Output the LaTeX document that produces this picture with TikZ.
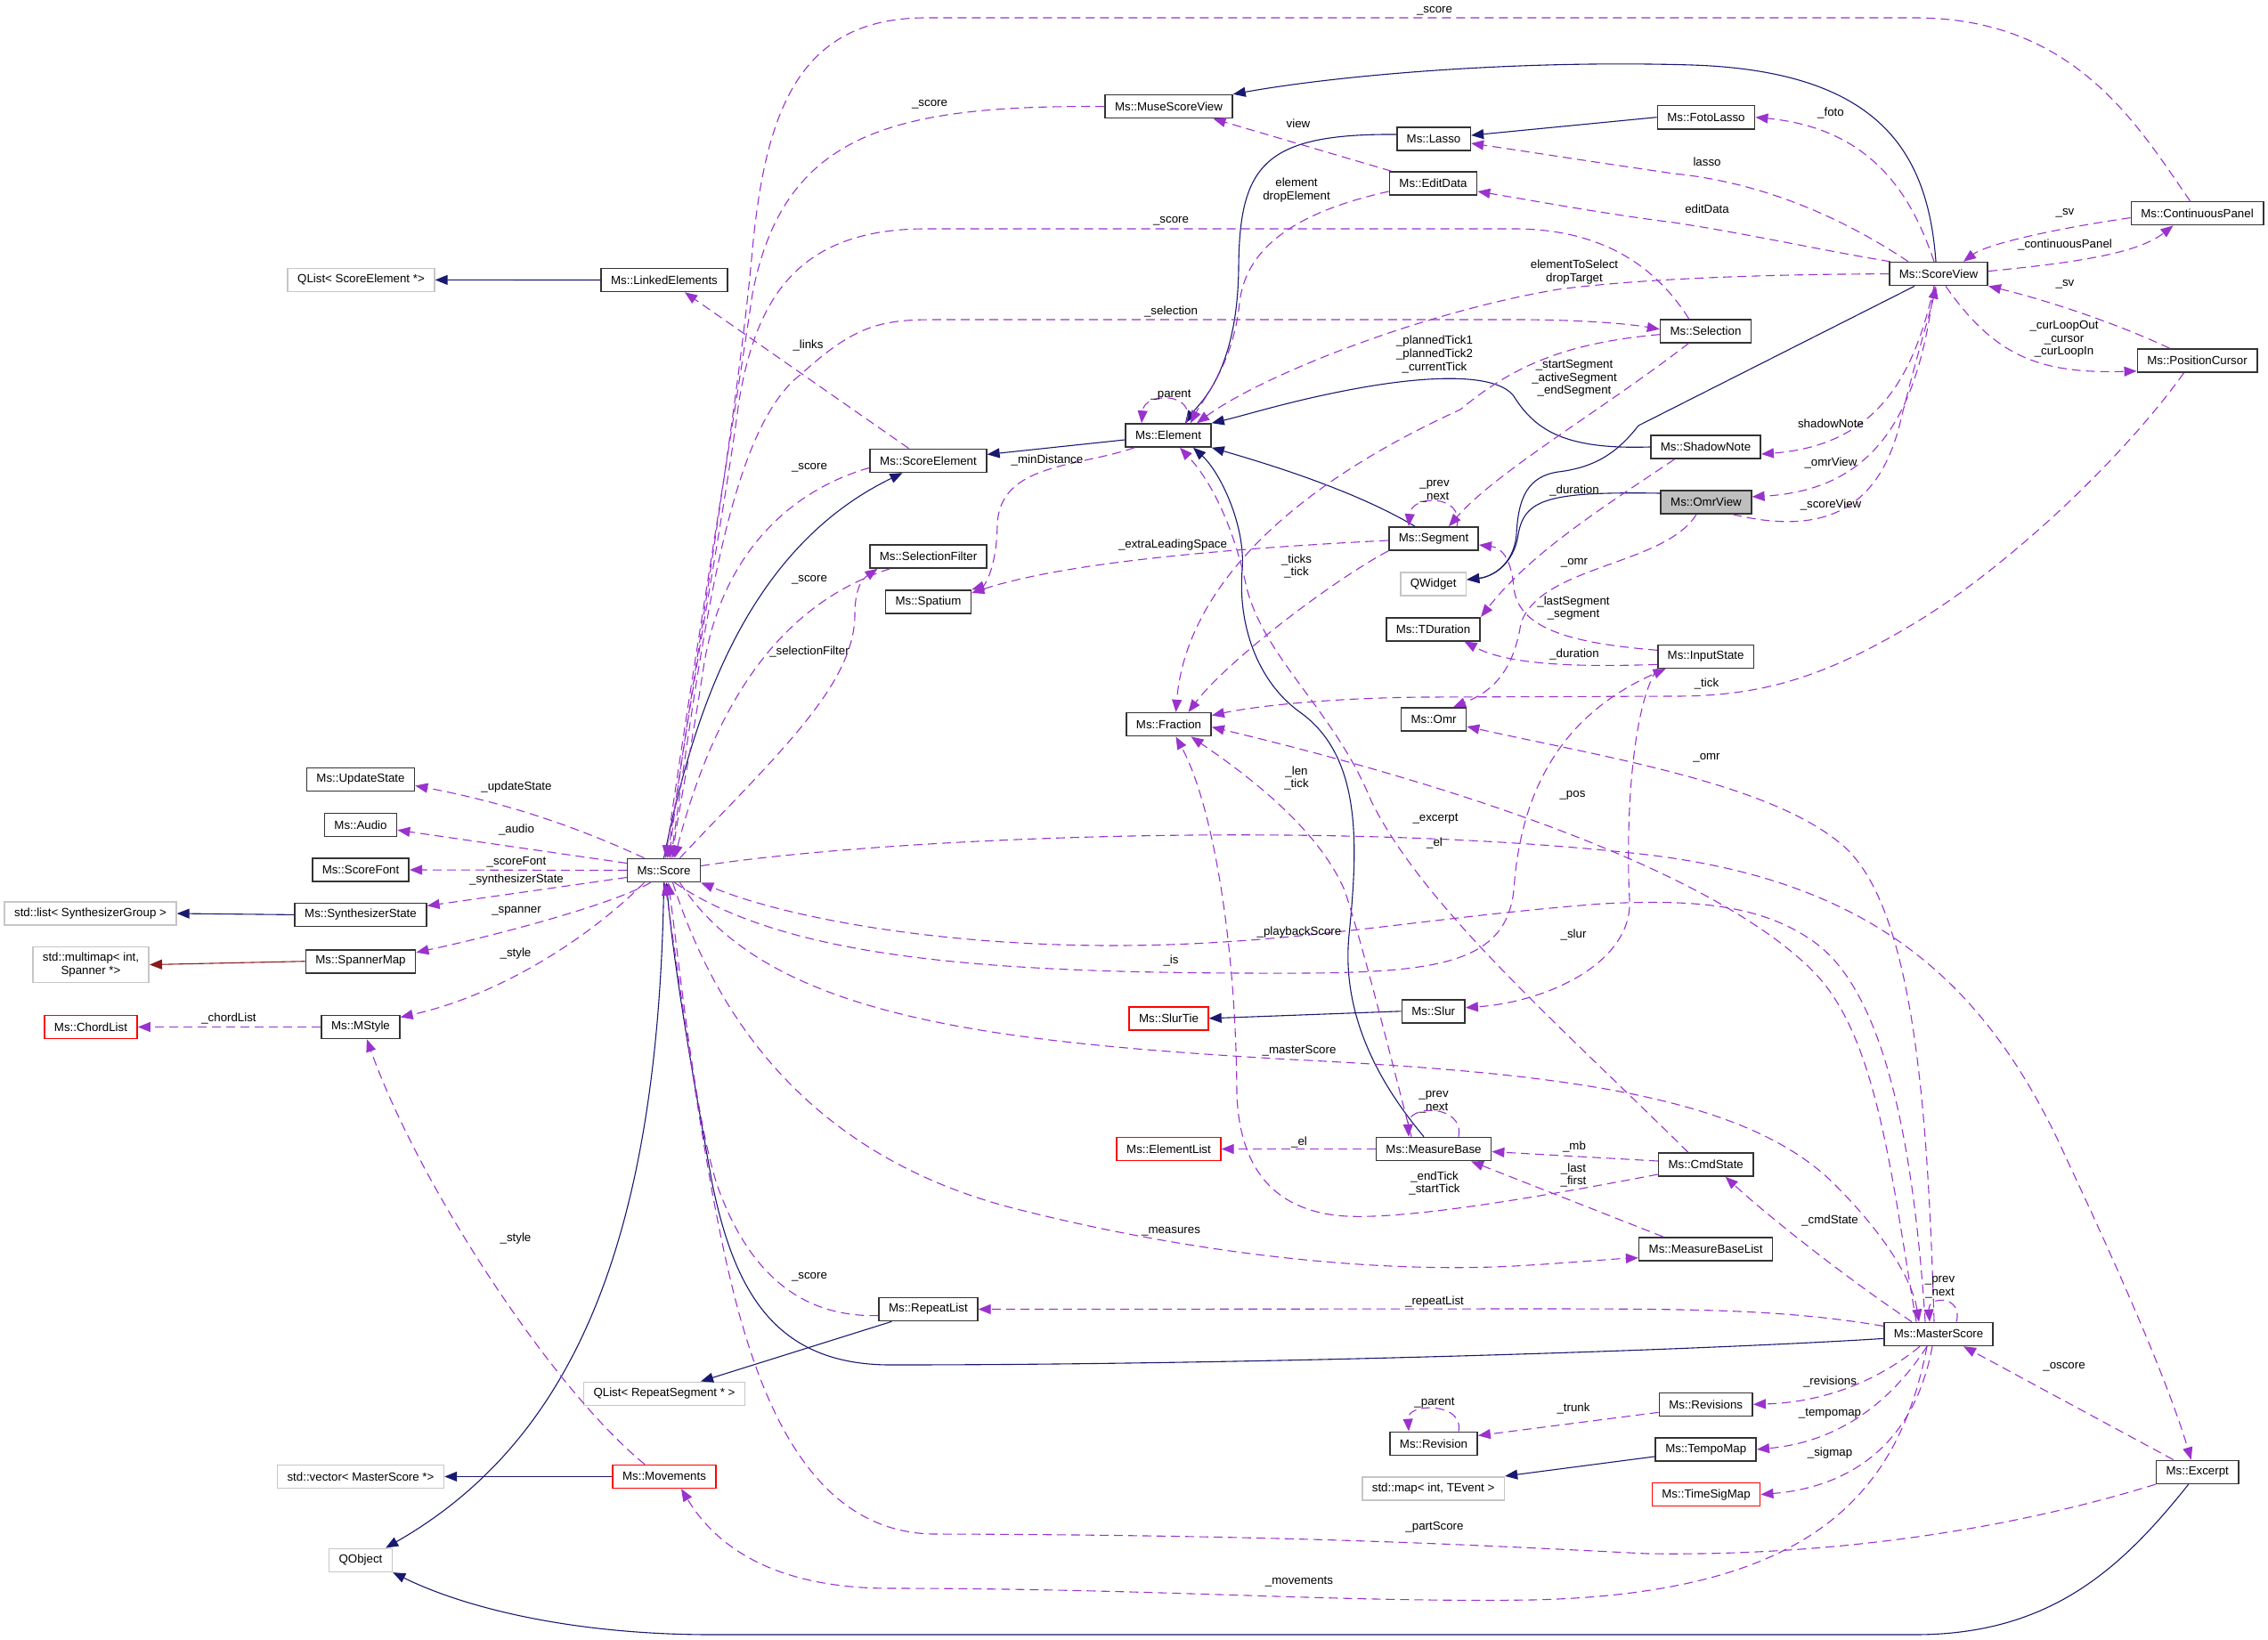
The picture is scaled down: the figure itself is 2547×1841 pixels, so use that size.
\documentclass[tikz,border=0pt]{standalone}
\usepackage{fontspec}
\setmainfont{Liberation Sans}
\usetikzlibrary{arrows.meta}
\definecolor{inhcol}{HTML}{191970}
\definecolor{depcol}{HTML}{9A32CD}
\definecolor{redcol}{HTML}{8B1A1A}

\begin{document}
\begin{tikzpicture}[x=1pt, y=-1pt, font=\fontsize{13.3}{14.6}\selectfont,
    cls/.style={draw=black!80, line width=1.6pt, minimum height=26pt, inner xsep=11pt, inner ysep=3pt},
    ext/.style={cls, draw=gray!45},
    trunc/.style={cls, draw=red},
    focus/.style={cls, fill=gray!50},
    lbl/.style={inner sep=0pt, align=center},
    inh/.style={draw=inhcol, line width=1.1pt, -{Triangle[length=14pt,width=11pt]}},
    inhred/.style={inh, draw=redcol},
    dep/.style={draw=depcol, line width=1.1pt, dash pattern=on 10pt off 6pt, -{Triangle[length=14pt,width=11pt]}}]
    \useasboundingbox (0,0) rectangle (2547,1841);

    % classes
    \node[ext] (qlistse) at (405.5,314.4) {QList< ScoreElement *>};
    \node[cls] (linked) at (746,314.5) {Ms::LinkedElements};
    \node[cls] (scoreelem) at (1042.5,517.4) {Ms::ScoreElement};
    \node[cls] (musescoreview) at (1312.5,119.6) {Ms::MuseScoreView};
    \node[cls] (lasso) at (1610,156) {Ms::Lasso};
    \node[cls] (editdata) at (1609.5,206) {Ms::EditData};
    \node[cls] (element) at (1312,489) {Ms::Element};
    \node[cls] (segment) at (1610,605) {Ms::Segment};
    \node[cls] (selection) at (1915.5,371.7) {Ms::Selection};
    \node[cls] (fotolasso) at (1916,131.7) {Ms::FotoLasso};
    \node[cls] (shadownote) at (1915.5,502) {Ms::ShadowNote};
    \node[focus] (omrview) at (1916,564) {Ms::OmrView};
    \node[cls] (scoreview) at (2177,307.6) {Ms::ScoreView};
    \node[cls] (contpanel) at (2467.5,239.6) {Ms::ContinuousPanel};
    \node[cls] (poscursor) at (2467.5,405) {Ms::PositionCursor};
    \node[cls] (updatestate) at (405,875.5) {Ms::UpdateState};
    \node[cls] (audio) at (405,926.3) {Ms::Audio};
    \node[cls] (scorefont) at (405,977) {Ms::ScoreFont};
    \node[cls] (synthstate) at (405,1027.4) {Ms::SynthesizerState};
    \node[cls] (spannermap) at (405,1079.7) {Ms::SpannerMap};
    \node[cls] (mstyle) at (405,1153.5) {Ms::MStyle};
    \node[trunc] (chordlist) at (102,1153.5) {Ms::ChordList};
    \node[ext] (stdlist) at (101.5,1026) {std::list< SynthesizerGroup >};
    \node[ext, align=center, minimum height=40pt] (multimap) at (102,1083.5) {std::multimap< int,\\Spanner *>};
    \node[cls] (score) at (745.5,977.5) {Ms::Score};
    \node[cls] (selfilter) at (1042.5,625) {Ms::SelectionFilter};
    \node[cls] (spatium) at (1042.5,676) {Ms::Spatium};
    \node[cls] (fraction) at (1312.5,813.6) {Ms::Fraction};
    \node[ext] (qwidget) at (1609.6,656) {QWidget};
    \node[cls] (tduration) at (1609.5,706.7) {Ms::TDuration};
    \node[cls] (omr) at (1610,808) {Ms::Omr};
    \node[cls] (inputstate) at (1915.6,737.3) {Ms::InputState};
    \node[trunc] (slurtie) at (1312.5,1143.8) {Ms::SlurTie};
    \node[cls] (slur) at (1609.7,1135.8) {Ms::Slur};
    \node[cls] (repeatlist) at (1042.4,1470.5) {Ms::RepeatList};
    \node[ext] (qlistrs) at (746,1565.3) {QList< RepeatSegment * >};
    \node[trunc] (movements) at (746,1658.4) {Ms::Movements};
    \node[ext] (stdvector) at (405,1658.4) {std::vector< MasterScore *>};
    \node[ext] (qobject) at (405,1752.3) {QObject};
    \node[cls] (measurebase) at (1610,1290.5) {Ms::MeasureBase};
    \node[trunc] (elementlist) at (1312.5,1290.5) {Ms::ElementList};
    \node[cls] (cmdstate) at (1915.7,1308) {Ms::CmdState};
    \node[cls] (mblist) at (1915.6,1402.8) {Ms::MeasureBaseList};
    \node[cls] (revisions) at (1915.7,1577.3) {Ms::Revisions};
    \node[cls] (tempomap) at (1915.7,1627.9) {Ms::TempoMap};
    \node[trunc] (timesigmap) at (1916,1678.6) {Ms::TimeSigMap};
    \node[cls] (revision) at (1610,1621.4) {Ms::Revision};
    \node[ext] (stdmap) at (1609.6,1671.7) {std::map< int, TEvent >};
    \node[cls] (masterscore) at (2177,1498.4) {Ms::MasterScore};
    \node[cls] (excerpt) at (2467.7,1653.3) {Ms::Excerpt};

    % inheritance
    \draw[inh] (linked.west) -- (qlistse.east);
    \draw[inh] ([yshift=-5pt]element.west) -- ([yshift=7pt]scoreelem.east);
    \draw[inh] (score.north) .. controls (775,820) and (830,620) .. ([xshift=-29pt]scoreelem.south);
    \draw[inh] (score.south) .. controls (740,1400) and (640,1620) .. ([xshift=-8pt]qobject.north east);
    \draw[inh] (synthstate.west) -- (stdlist.east);
    \draw[inhred] (spannermap.west) -- (multimap.east);
    \draw[inh] ([yshift=5pt]lasso.west) .. controls (1420,150) and (1392,185) .. (1391,300) .. controls (1390,420) and (1345,455) .. ([xshift=19pt]element.north);
    \draw[inh] (fotolasso.west) -- ([yshift=4pt]lasso.east);
    \draw[inh] ([xshift=-3pt]scoreview.north) .. controls (2165,170) and (2110,80) .. (1900,73) .. controls (1700,67) and (1500,85) .. (musescoreview.north east);
    \draw[inh] ([xshift=-27pt]scoreview.south) -- (1840,478) .. controls (1815,510) and (1790,525) .. (1750,530) .. controls (1715,535) and (1705,560) .. (1703,600) .. controls (1700,635) and (1675,648) .. ([yshift=5pt]qwidget.east);
    \draw[inh] ([yshift=10pt]omrview.west) .. controls (1740,552) and (1712,560) .. (1705,600) .. controls (1700,635) and (1675,648) .. ([yshift=5pt]qwidget.east);
    \draw[inh] ([xshift=-41pt]repeatlist.south) -- ([xshift=41pt]qlistrs.north);
    \draw[inh] ([yshift=-5pt]masterscore.west) .. controls (1900,1517) and (1400,1533) .. (1000,1533) .. controls (870,1533) and (825,1450) .. (800,1330) .. controls (780,1220) and (757,1090) .. ([xshift=3pt]score.south);
    \draw[inh] ([xshift=-10pt]excerpt.south) .. controls (2380,1765) and (2300,1836) .. (2150,1836) -- (800,1836) .. controls (640,1836) and (520,1805) .. (qobject.south east);
    \draw[inh] ([xshift=-11pt]measurebase.north) .. controls (1560,1230) and (1505,1150) .. (1515,1050) .. controls (1525,950) and (1530,850) .. (1460,800) .. controls (1411,765) and (1390,700) .. (1395,640) .. controls (1399,590) and (1370,530) .. ([xshift=28pt]element.south);
    \draw[inh] ([xshift=-21pt]segment.north) .. controls (1520,550) and (1420,520) .. (element.south east);
    \draw[inh] (shadownote.west) .. controls (1760,505) and (1725,485) .. (1700,445) .. controls (1680,418) and (1600,422) .. (1520,437) .. controls (1450,450) and (1400,466) .. (element.north east);
    \draw[inh] (slur.west) -- (slurtie.east);
    \draw[inh] ([yshift=-8pt]tempomap.west) -- (stdmap.north east);
    \draw[inh] (movements.west) -- (stdvector.east);

    % usage
    \draw[dep] ([xshift=-8pt]contpanel.north) .. controls (2400,140) and (2330,20) .. (2150,20) -- (1040,20) .. controls (900,20) and (860,120) .. (845,280) .. controls (830,450) and (780,750) .. ([xshift=4pt]score.north);
    \draw[dep] (musescoreview.west) .. controls (1000,118) and (880,150) .. (845,330) .. controls (820,500) and (770,800) .. ([xshift=2pt]score.north);
    \draw[dep] ([xshift=-19pt]selection.north) .. controls (1860,300) and (1800,257) .. (1700,257) -- (1040,257) .. controls (900,257) and (850,330) .. (830,450) .. controls (810,600) and (770,800) .. ([xshift=6pt]score.north);
    \draw[dep] ([xshift=8pt]score.north) .. controls (790,700) and (820,480) .. (900,420) .. controls (960,365) and (990,359) .. (1050,359) -- (1700,359) .. controls (1780,359) and (1830,364) .. ([yshift=2pt]selection.west);
    \draw[dep] ([yshift=-8pt]scoreelem.west) .. controls (890,550) and (810,620) .. (790,750) .. controls (775,850) and (760,920) .. ([xshift=10pt]score.north);
    \draw[dep] ([xshift=-43pt]selfilter.south) .. controls (870,680) and (800,800) .. ([xshift=12pt]score.north);
    \draw[dep] ([xshift=18pt]score.north) .. controls (870,850) and (960,770) .. (960,690) .. controls (960,655) and (972,648) .. ([xshift=-57pt]selfilter.south);
    \draw[dep] ([xshift=-22pt]scoreelem.north) -- ([xshift=23pt]linked.south);
    \draw[dep] ([xshift=-47pt]editdata.north) -- ([xshift=50pt]musescoreview.south);
    \draw[dep] ([yshift=-9pt]editdata.west) .. controls (1470,235) and (1400,270) .. (1392,340) .. controls (1385,410) and (1350,450) .. ([xshift=25pt]element.north);
    \draw[dep] ([xshift=-34pt]scoreview.north) .. controls (2070,245) and (1980,205) .. (1880,195) .. controls (1790,182) and (1700,168) .. ([yshift=-5pt]lasso.east);
    \draw[dep] ([xshift=-5pt]scoreview.north) .. controls (2150,230) and (2110,145) .. (fotolasso.east);
    \draw[dep] ([xshift=-54pt]scoreview.north) .. controls (2050,282) and (1960,262) .. (1880,250) .. controls (1800,240) and (1720,225) .. ([yshift=-9pt]editdata.east);
    \draw[dep] (scoreview.west) .. controls (2000,308) and (1850,312) .. (1750,325) .. controls (1600,350) and (1420,420) .. ([xshift=32pt]element.north);
    \draw[dep] ([yshift=-5pt]contpanel.west) .. controls (2300,258) and (2230,275) .. ([xshift=28pt]scoreview.north);
    \draw[dep] ([yshift=3pt]scoreview.east) .. controls (2330,295) and (2400,285) .. ([xshift=-27pt]contpanel.south);
    \draw[dep] ([xshift=-31pt]poscursor.north) .. controls (2370,360) and (2290,335) .. (scoreview.south east);
    \draw[dep] ([xshift=8pt]scoreview.south) .. controls (2240,400) and (2290,420) .. ([yshift=2pt]poscursor.south west);
    \draw[dep] ([xshift=-15pt]poscursor.south) .. controls (2380,520) and (2250,640) .. (2150,700) .. controls (2050,760) and (1980,782) .. (1880,782) -- (1600,783) .. controls (1480,784) and (1400,795) .. ([yshift=10pt]fraction.east);
    \draw[dep] ([xshift=-5pt]scoreview.south) .. controls (2150,420) and (2110,500) .. ([yshift=-8pt]shadownote.east);
    \draw[dep] ([xshift=-5pt]scoreview.south) .. controls (2155,460) and (2110,550) .. ([yshift=6pt]omrview.east);
    \draw[dep] ([xshift=30pt]omrview.south) .. controls (2040,600) and (2110,580) .. (2135,470) .. controls (2155,390) and (2168,350) .. ([xshift=-3pt]scoreview.south);
    \draw[dep] ([xshift=20pt]element.north) .. controls (1345,440) and (1285,440) .. ([xshift=-30pt]element.north);
    \draw[dep] ([xshift=-38pt]element.south) .. controls (1210,525) and (1122,520) .. (1120,590) .. controls (1119,640) and (1105,658) .. (spatium.north east);
    \draw[dep] ([yshift=-2pt]segment.west) .. controls (1400,615) and (1200,630) .. ([yshift=10pt]spatium.east);
    \draw[dep] ([xshift=26pt]segment.north) .. controls (1645,555) and (1585,555) .. ([xshift=-28pt]segment.north);
    \draw[dep] (segment.south west) .. controls (1500,650) and (1380,740) .. ([xshift=22pt]fraction.north);
    \draw[dep] ([yshift=-4pt]selection.west) .. controls (1760,385) and (1700,410) .. (1640,460) .. controls (1420,560) and (1330,680) .. ([xshift=8pt]fraction.north);
    \draw[dep] ([xshift=-19pt]selection.south) .. controls (1800,460) and (1680,530) .. ([xshift=17pt]segment.north);
    \draw[dep] ([yshift=7pt]inputstate.west) .. controls (1760,722) and (1705,705) .. (1700,660) .. controls (1697,625) and (1685,615) .. ([yshift=-7pt]segment.east);
    \draw[dep] ([yshift=-9pt]inputstate.west) .. controls (1760,750) and (1690,745) .. ([xshift=35pt]tduration.south);
    \draw[dep] ([xshift=-35pt]shadownote.south) .. controls (1800,570) and (1720,620) .. (tduration.north east);
    \draw[dep] ([xshift=-11pt]omrview.south) .. controls (1870,635) and (1730,635) .. (1708,700) .. controls (1700,750) and (1680,775) .. ([xshift=22pt]omr.north);
    \draw[dep] ([xshift=-5pt]masterscore.north) .. controls (2165,1250) and (2150,1020) .. (2070,950) .. controls (1990,880) and (1800,850) .. ([yshift=-8pt]omr.east);
    \draw[dep] ([xshift=-25pt]masterscore.north) .. controls (2125,1330) and (2110,1170) .. (2040,1095) .. controls (1960,1010) and (1750,910) .. ([yshift=-3pt]fraction.east);
    \draw[dep] ([yshift=5pt]score.east) .. controls (1000,940) and (1500,920) .. (1850,960) .. controls (2100,990) and (2230,1100) .. (2320,1300) .. controls (2400,1470) and (2440,1570) .. ([xshift=-7pt]excerpt.north);
    \draw[dep] ([xshift=-15pt]masterscore.north) .. controls (2150,1300) and (2120,1120) .. (2040,1060) .. controls (1980,1015) and (1900,1010) .. (1800,1015) .. controls (1600,1030) and (1450,1062) .. (1250,1062) .. controls (1050,1062) and (880,1030) .. (score.south east);
    \draw[dep] ([xshift=12pt]score.south) .. controls (880,1075) and (1100,1092) .. (1400,1093) .. controls (1600,1094) and (1690,1090) .. (1700,1000) .. controls (1708,880) and (1760,800) .. ([xshift=-45pt]inputstate.south);
    \draw[dep] (inputstate.south west) .. controls (1830,800) and (1826,940) .. (1830,1010) .. controls (1834,1080) and (1740,1125) .. ([yshift=4pt]slur.east);
    \draw[dep] ([xshift=18pt]score.south) .. controls (860,1140) and (1100,1170) .. (1450,1190) .. controls (1750,1205) and (1960,1230) .. (2060,1330) .. controls (2120,1390) and (2148,1440) .. ([xshift=-22pt]masterscore.north);
    \draw[dep] ([xshift=20pt]masterscore.north) .. controls (2205,1455) and (2165,1455) .. ([xshift=-10pt]masterscore.north);
    \draw[dep] ([xshift=-30pt]masterscore.north) .. controls (2080,1440) and (1990,1370) .. ([xshift=22pt]cmdstate.south);
    \draw[dep] ([xshift=28pt]measurebase.north) .. controls (1645,1240) and (1580,1240) .. ([xshift=-28pt]measurebase.north);
    \draw[dep] (measurebase.west) -- (elementlist.east);
    \draw[dep] ([yshift=4pt]cmdstate.west) -- ([yshift=-3pt]measurebase.east);
    \draw[dep] ([xshift=-48pt]mblist.north) -- ([xshift=42pt]measurebase.south);
    \draw[dep] ([yshift=-11pt]cmdstate.west) .. controls (1700,1350) and (1560,1372) .. (1500,1365) .. controls (1420,1355) and (1392,1300) .. (1389,1230) .. controls (1388,1050) and (1360,900) .. ([xshift=8pt]fraction.south);
    \draw[dep] ([xshift=-25pt]measurebase.north) .. controls (1560,1180) and (1530,1060) .. (1510,1000) .. controls (1480,930) and (1400,870) .. ([xshift=25pt]fraction.south);
    \draw[dep] ([xshift=-20pt]cmdstate.north) .. controls (1750,1150) and (1600,1020) .. (1540,900) .. controls (1500,800) and (1420,740) .. (1400,660) .. controls (1385,590) and (1360,540) .. ([xshift=13pt]element.south);
    \draw[dep] ([xshift=10pt]score.south) .. controls (800,1130) and (900,1300) .. (1150,1360) .. controls (1350,1410) and (1550,1430) .. (1700,1422) .. controls (1770,1418) and (1810,1414) .. ([yshift=-10pt]mblist.west);
    \draw[dep] ([yshift=-7pt]repeatlist.west) .. controls (900,1480) and (840,1430) .. (805,1330) .. controls (780,1250) and (765,1100) .. ([xshift=5pt]score.south);
    \draw[dep] (excerpt.south west) .. controls (2250,1720) and (2050,1748) .. (1850,1745) .. controls (1650,1735) and (1450,1724) .. (1050,1723) .. controls (880,1722) and (830,1500) .. (800,1340) .. controls (775,1200) and (760,1080) .. ([xshift=1pt]score.south);
    \draw[dep] ([xshift=-22pt]movements.north) .. controls (620,1560) and (470,1330) .. ([xshift=7pt]mstyle.south);
    \draw[dep] ([xshift=-22pt]score.south) .. controls (660,1055) and (560,1118) .. ([yshift=11pt]mstyle.east);
    \draw[dep] ([xshift=-15pt]score.south) .. controls (690,1015) and (560,1050) .. ([yshift=10pt]spannermap.east);
    \draw[dep] ([yshift=-8pt]score.west) -- ([yshift=10pt]synthstate.east);
    \draw[dep] (score.west) -- (scorefont.east);
    \draw[dep] ([yshift=8pt]score.west) -- ([yshift=-6pt]audio.east);
    \draw[dep] ([xshift=-22pt]score.north) .. controls (640,925) and (560,900) .. ([yshift=-7pt]updatestate.east);
    \draw[dep] (mstyle.west) -- (chordlist.east);
    \draw[dep] ([yshift=9pt]masterscore.west) .. controls (2000,1470) and (1900,1470) .. (1700,1470) -- (repeatlist.east);
    \draw[dep] ([xshift=-21pt]masterscore.south) .. controls (2110,1550) and (2050,1575) .. (revisions.east);
    \draw[dep] ([xshift=-13pt]masterscore.south) .. controls (2120,1580) and (2060,1620) .. (tempomap.east);
    \draw[dep] ([xshift=-7pt]masterscore.south) .. controls (2150,1620) and (2080,1670) .. (timesigmap.east);
    \draw[dep] ([xshift=-13pt]masterscore.south) .. controls (2130,1690) and (2020,1790) .. (1720,1797) .. controls (1500,1800) and (1300,1784) .. (1000,1784) .. controls (860,1784) and (800,1730) .. ([xshift=19pt]movements.south);
    \draw[dep] ([xshift=-27pt]excerpt.north) -- ([xshift=28pt]masterscore.south);
    \draw[dep] ([yshift=-9pt]revisions.west) -- ([yshift=9pt]revision.east);
    \draw[dep] ([xshift=28pt]revision.north) .. controls (1645,1575) and (1580,1575) .. ([xshift=-28pt]revision.north);

    % member labels
    \node[lbl] (lcpscore) at (1611,12) {\_score};
    \node[lbl] (lmsvscore) at (1044,117) {\_score};
    \node[lbl] (lview) at (1458,139) {view};
    \node[lbl] (llasso) at (1917,182) {lasso};
    \node[lbl] (lfoto) at (2056,127) {\_foto};
    \node[lbl] (ledelem) at (1456,213.5) {element\\dropElement};
    \node[lbl] (leditdata) at (1917,235) {editData};
    \node[lbl] (lselscore) at (1315,248) {\_score};
    \node[lbl] (lcpsv) at (2319,239) {\_sv};
    \node[lbl] (lcontpanel) at (2319,275) {\_continuousPanel};
    \node[lbl] (lsvelem) at (1768,305.7) {elementToSelect\\dropTarget};
    \node[lbl] (lpcsv) at (2319,319.5) {\_sv};
    \node[lbl] (lselection) at (1315,350) {\_selection};
    \node[lbl] (lcurloop) at (2318,381) {\_curLoopOut\\\_cursor\\\_curLoopIn};
    \node[lbl] (llinks) at (907.5,388) {\_links};
    \node[lbl] (lplanned) at (1611,398) {\_plannedTick1\\\_plannedTick2\\\_currentTick};
    \node[lbl] (lsegments) at (1768,425) {\_startSegment\\\_activeSegment\\\_endSegment};
    \node[lbl] (leparent) at (1315,443.6) {\_parent};
    \node[lbl] (lshadow) at (2056,476) {shadowNote};
    \node[lbl] (lmindist) at (1176,517) {\_minDistance};
    \node[lbl] (lsescore) at (909,525) {\_score};
    \node[lbl] (lomrview) at (2056,520) {\_omrView};
    \node[lbl] (lsnduration) at (1768,551) {\_duration};
    \node[lbl] (lsegprev) at (1611,552) {\_prev\\\_next};
    \node[lbl] (lscoreview) at (2056,567) {\_scoreView};
    \node[lbl] (lextra) at (1317,612) {\_extraLeadingSpace};
    \node[lbl] (lovomr) at (1768,632.5) {\_omr};
    \node[lbl] (lticks) at (1456,636) {\_ticks\\\_tick};
    \node[lbl] (lsfscore) at (909,651.5) {\_score};
    \node[lbl] (llastseg) at (1767,683) {\_lastSegment\\\_segment};
    \node[lbl] (lselfilter) at (909,732) {\_selectionFilter};
    \node[lbl] (lisduration) at (1768,735) {\_duration};
    \node[lbl] (lpctick) at (1916.5,768) {\_tick};
    \node[lbl] (lmsomr) at (1916.5,851) {\_omr};
    \node[lbl] (llen) at (1456,874) {\_len\\\_tick};
    \node[lbl] (lupdate) at (580,884) {\_updateState};
    \node[lbl] (lpos) at (1766,893) {\_pos};
    \node[lbl] (lexcerpt) at (1612,920) {\_excerpt};
    \node[lbl] (laudio) at (580,932) {\_audio};
    \node[lbl] (lcsel) at (1611,947) {\_el};
    \node[lbl] (lscorefont) at (580,968.6) {\_scoreFont};
    \node[lbl] (lsynth) at (580,988.4) {\_synthesizerState};
    \node[lbl] (lspanner) at (580,1023.6) {\_spanner};
    \node[lbl] (lplayback) at (1459,1047) {\_playbackScore};
    \node[lbl] (lslur) at (1767,1050) {\_slur};
    \node[lbl] (lscstyle) at (579,1070.7) {\_style};
    \node[lbl] (lis) at (1315,1079.4) {\_is};
    \node[lbl] (lchordlist) at (257,1144) {\_chordList};
    \node[lbl] (lmasterscore) at (1459,1180) {\_masterScore};
    \node[lbl] (lmbprev) at (1610,1238) {\_prev\\\_next};
    \node[lbl] (lmbel) at (1459,1282.6) {\_el};
    \node[lbl] (lmb) at (1768,1288) {\_mb};
    \node[lbl] (llastfirst) at (1767,1320) {\_last\\\_first};
    \node[lbl] (lendtick) at (1611,1329) {\_endTick\\\_startTick};
    \node[lbl] (lcmdstate) at (2055,1371) {\_cmdState};
    \node[lbl] (lmeasures) at (1315,1383) {\_measures};
    \node[lbl] (lmvstyle) at (579,1391) {\_style};
    \node[lbl] (lrlscore) at (909,1434.7) {\_score};
    \node[lbl] (lmsprev) at (2178.5,1445.7) {\_prev\\\_next};
    \node[lbl] (lrepeatlist) at (1611,1462.4) {\_repeatList};
    \node[lbl] (loscore) at (2318,1535.6) {\_oscore};
    \node[lbl] (lrevisions) at (2055,1551.5) {\_revisions};
    \node[lbl] (lrvparent) at (1611,1575.6) {\_parent};
    \node[lbl] (ltrunk) at (1767,1582.4) {\_trunk};
    \node[lbl] (ltempomap) at (2055,1587.5) {\_tempomap};
    \node[lbl] (lsigmap) at (2055,1632) {\_sigmap};
    \node[lbl] (lpartscore) at (1611,1715.4) {\_partScore};
    \node[lbl] (lmovements) at (1459,1776.4) {\_movements};
\end{tikzpicture}
\end{document}
